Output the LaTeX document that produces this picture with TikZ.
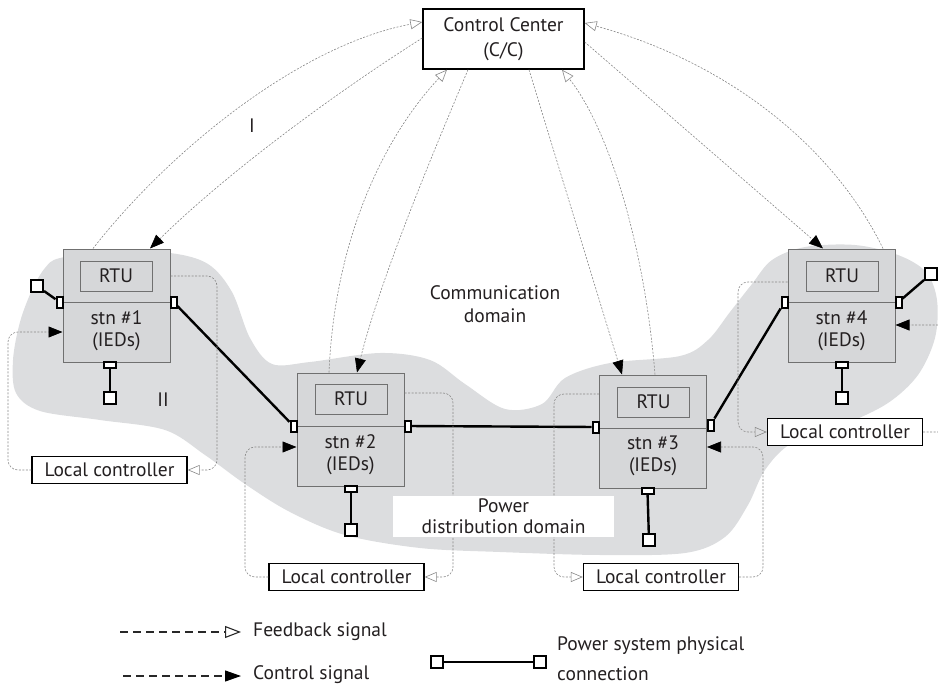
\documentclass[tikz,border=0pt]{standalone}
\usepackage{fontspec}
\setmainfont{PT Sans}
\usetikzlibrary{arrows.meta,calc}
\definecolor{blobgray}{RGB}{220,221,223}
\definecolor{stngray}{RGB}{214,215,217}
\definecolor{edgegray}{RGB}{112,112,112}
\definecolor{sigray}{RGB}{135,135,135}
\definecolor{legdark}{RGB}{40,40,40}
\definecolor{txt}{RGB}{35,31,32}
\begin{document}
\begin{tikzpicture}[x=1pt,y=-1pt,
  every node/.style={font=\fontsize{19.5}{22}\selectfont, text=txt, inner sep=0pt},
  station/.style={draw=edgegray, fill=stngray, line width=1pt, minimum width=107pt, minimum height=113pt},
  rtu/.style={draw=edgegray, line width=1pt, minimum width=72pt, minimum height=30pt},
  locctl/.style={draw, line width=1.4pt, fill=white, minimum width=155pt, minimum height=27pt},
  termv/.style={draw, line width=2pt, fill=white, minimum width=6pt, minimum height=11pt},
  termh/.style={draw, line width=2pt, fill=white, minimum width=12pt, minimum height=6pt},
  endsq/.style={draw, line width=2pt, fill=white, minimum size=12pt},
  power/.style={line width=2.4pt},
  sig/.style={draw=sigray, line width=0.6pt, dash pattern=on 2pt off 1.5pt},
  fb/.style={sig, -{Triangle[open, length=12pt, width=10pt]}},
  ctl/.style={sig, -{Triangle[length=14pt, width=11pt, color=black]}},
  legline/.style={draw=legdark, line width=1.1pt, dash pattern=on 8pt off 5pt},
]
\useasboundingbox (0,0) rectangle (938,685);

% gray domain blob
\fill[blobgray] plot[smooth cycle, tension=0.55] coordinates {
(60,258) (110,252) (170,253) (208,264) (232,292) (250,338) (272,364) (310,362)
(380,353) (430,360) (465,384) (505,409) (542,404) (565,378) (610,363) (680,356)
(708,340) (730,312) (752,284) (772,260) (805,247) (855,245) (898,255) (926,272)
(937,300) (935,338) (918,375) (888,403) (845,424) (792,443) (765,470) (748,505)
(725,537) (685,553) (600,555) (500,552) (420,548) (345,535) (290,512) (245,484)
(205,455) (165,430) (100,420) (40,411) (16,393) (13,360) (20,322) (32,290) (45,268)};

% control center
\node[draw, line width=1.4pt, fill=white, minimum width=161pt, minimum height=60pt,
      align=center, font=\fontsize{19.5}{25}\selectfont] (cc) at (503.5,39) {Control Center\\(C/C)};

% stations
\node[station] (s1) at (116.5,305.5) {};
\node[station] (s2) at (350.5,429.5) {};
\node[station] (s3) at (653,431.5) {};
\node[station] (s4) at (841.5,305.5) {};
\draw[edgegray, line width=1pt] (s1.west |- 0,302) -- (s1.east |- 0,302);
\draw[edgegray, line width=1pt] (s2.west |- 0,426) -- (s2.east |- 0,426);
\draw[edgegray, line width=1pt] (s3.west |- 0,428) -- (s3.east |- 0,428);
\draw[edgegray, line width=1pt] (s4.west |- 0,302) -- (s4.east |- 0,302);
\node[rtu] (r1) at (116,276) {RTU};
\node[rtu] (r2) at (351,399) {RTU};
\node[rtu] (r3) at (653.5,402) {RTU};
\node[rtu] (r4) at (842,276) {RTU};
\node[align=center] (n1) at (116.5,331) {stn \#1\\(IEDs)};
\node[align=center] (n2) at (350.5,454.5) {stn \#2\\(IEDs)};
\node[align=center] (n3) at (653,456) {stn \#3\\(IEDs)};
\node[align=center] (n4) at (841.5,331) {stn \#4\\(IEDs)};

% terminals and end squares
\node[termv] (t1l) at (59.5,302) {};
\node[termv] (t1r) at (173.5,302) {};
\node[termh] (t1b) at (110,365) {};
\node[termv] (t2l) at (293.5,426) {};
\node[termv] (t2r) at (407.5,426) {};
\node[termh] (t2b) at (351,489) {};
\node[termv] (t3l) at (595.5,427) {};
\node[termv] (t3r) at (710.5,425) {};
\node[termh] (t3b) at (647.5,491) {};
\node[termv] (t4l) at (784.5,302) {};
\node[termv] (t4r) at (898.5,302) {};
\node[termh] (t4b) at (842,365) {};
\node[endsq] (e1l) at (37,286) {};
\node[endsq] (e1b) at (110,398) {};
\node[endsq] (e2b) at (351,530) {};
\node[endsq] (e3b) at (649,540) {};
\node[endsq] (e4b) at (842,398) {};
\node[endsq] (e4r) at (931,274) {};

\draw[power] (e1l) -- (t1l);
\draw[power] (t1r) -- (t2l);
\draw[power] (t2r) -- (t3l);
\draw[power] (t3r) -- (t4l);
\draw[power] (t4r) -- (e4r);
\draw[power] (t1b) -- (e1b);
\draw[power] (t2b) -- (e2b);
\draw[power] (t3b) -- (e3b);
\draw[power] (t4b) -- (e4b);

% local controllers
\node[locctl] (lc1) at (109.5,470) {Local controller};
\node[locctl] (lc2) at (346.5,577) {Local controller};
\node[locctl] (lc3) at (661,577) {Local controller};
\node[locctl] (lc4) at (845,432) {Local controller};

% local loops
\draw[fb, rounded corners=10pt] (s1.east |- 0,276) -- (217,276) -- (217,470) -- (lc1.east);
\draw[ctl, rounded corners=10pt] (lc1.west) -- (8,470) -- (8,332) -- (s1.west |- 0,332);
\draw[fb, rounded corners=10pt] (s2.east |- 0,393) -- (453,393) -- (453,577) -- (lc2.east);
\draw[ctl, rounded corners=10pt] (lc2.west) -- (245,577) -- (245,447) -- (s2.west |- 0,447);
\draw[fb, rounded corners=10pt] (s3.west |- 0,394) -- (554,394) -- (554,577) -- (lc3.west);
\draw[ctl, rounded corners=10pt] (lc3.east) -- (763,577) -- (763,447) -- (s3.east |- 0,447);
\draw[fb, rounded corners=10pt] (s4.west |- 0,282) -- (738,282) -- (738,432) -- (lc4.west);
\draw[ctl, rounded corners=10pt] (lc4.east) -- (948,432) -- (948,325) -- (s4.east |- 0,325);

% control center links
\draw[fb] (93,0 |- s1.north) .. controls (170,150) and (300,45) .. (cc.west |- 0,22);
\draw[ctl] (cc.west |- 0,38) .. controls (340,90) and (230,170) .. (150,0 |- s1.north);
\draw[fb] (329,0 |- s2.north) .. controls (335,230) and (390,130) .. (447,0 |- cc.south);
\draw[ctl] (468,0 |- cc.south) .. controls (430,160) and (380,280) .. (357,0 |- s2.north);
\draw[ctl] (529,0 |- cc.south) -- (622,0 |- s3.north);
\draw[fb] (655,0 |- s3.north) .. controls (645,250) and (610,130) .. (562,0 |- cc.south);
\draw[ctl] (cc.east |- 0,42) -- (823,0 |- s4.north);
\draw[fb] (883,0 |- s4.north) .. controls (830,140) and (720,60) .. (cc.east |- 0,23);

% labels
\node (lI) at (252,126) {I};
\node (lII) at (163,400) {II};
\node[align=center, font=\fontsize{19.5}{23}\selectfont] (comm) at (495,304.5) {Communication\\domain};
\node[fill=white, minimum width=221pt, minimum height=41pt, align=center,
      font=\fontsize{19.5}{21}\selectfont] (pdd) at (503.5,516.5) {Power\\distribution domain};

% legend
\coordinate (lf0) at (120,632);
\coordinate (lf1) at (241,632);
\draw[legline, -{Triangle[open, length=16pt, width=12pt]}] (lf0) -- (lf1);
\node[anchor=west] (lft) at (253,632) {Feedback signal};
\coordinate (lk0) at (123,676);
\coordinate (lk1) at (241,676);
\draw[legline, -{Triangle[length=16pt, width=11pt, color=black]}] (lk0) -- (lk1);
\node[anchor=west] (lkt) at (253,675) {Control signal};
\node[endsq] (lp1) at (437,662) {};
\node[endsq] (lp2) at (540,662) {};
\draw[line width=1.8pt] (lp1) -- (lp2);
\node[anchor=west, align=left, font=\fontsize{19.5}{30}\selectfont] (lpt) at (557,659) {Power system physical\\connection};
\end{tikzpicture}
\end{document}
